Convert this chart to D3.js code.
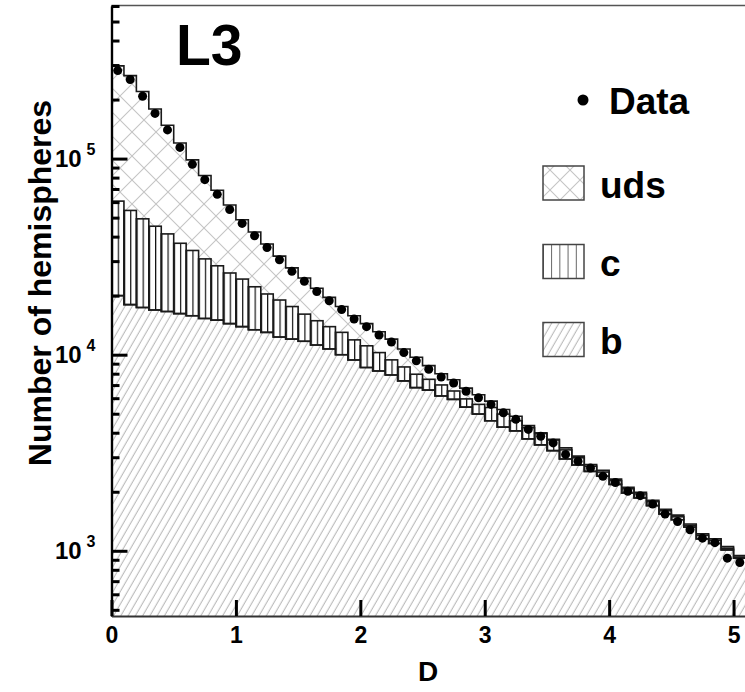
<!DOCTYPE html>
<html>
<head>
<meta charset="utf-8">
<script src="https://cdn.jsdelivr.net/npm/d3@7"></script>
<style>
  body { margin: 0; background: #fff; }
  svg { display: block; font-family: "Liberation Sans", Arial, sans-serif; font-weight: bold; }
</style>
</head>
<body>
<script>
// bins of width 0.1 in D, from 0 to 5.1
const binWidth = 0.1;
const binLow = d3.range(51).map(i => +(i * binWidth).toFixed(1));

// stacked contributions per bin (number of hemispheres)
const bQuark = [20000, 18000, 17400, 16900, 16600, 16200, 15800, 15300, 15000, 14400,
  13900, 13400, 13000, 12300, 12000, 11700, 11200, 10700, 10000, 9400,
  8600, 8260, 7880, 7350, 6790, 6600, 6160, 5920, 5400, 4980,
  4600, 4270, 4090, 3720, 3470, 3240, 2940, 2740, 2540, 2400,
  2180, 1970, 1860, 1700, 1540, 1440, 1320, 1150, 1090, 1010, 917];
const cQuark = [40700, 36400, 31900, 28300, 24700, 20800, 18200, 15500, 13400, 11700,
  10400, 8800, 7400, 6700, 5600, 4400, 3700, 3200, 3000, 2500,
  2500, 1990, 1530, 1310, 1160, 890, 850, 610, 550, 600,
  780, 710, 510, 520, 490, 430, 330, 240, 160, 120,
  100, 100, 90, 80, 60, 50, 30, 50, 40, 20, 13];
const udsQuark = [236300, 210600, 170700, 133800, 106700, 83000, 64500, 51200, 40600, 31900,
  24500, 20000, 16300, 12800, 10100, 8500, 6900, 5700, 4600, 3900,
  3300, 2850, 2590, 2040, 1750, 1310, 990, 920, 800, 670,
  420, 270, 250, 110, 40, 30, 80, 60, 50, 50,
  40, 40, 40, 30, 30, 30, 20, 20, 20, 20, 16];
const dataCounts = [281000, 253000, 208000, 170000, 140000, 114000, 93500, 78100, 65700, 55000,
  46700, 40400, 35200, 30500, 26600, 23700, 21000, 18850, 17000, 15200,
  13900, 12600, 11600, 10250, 9300, 8430, 7700, 7170, 6510, 6030,
  5580, 5060, 4680, 4160, 3840, 3550, 3100, 2860, 2640, 2400,
  2230, 2010, 1910, 1730, 1540, 1410, 1280, 1160, 1100, 917, 871];

const xTicks = [0, 1, 2, 3, 4, 5];
const yMajor = [1e3, 1e4, 1e5];
const legendItems = ["uds", "c", "b"];

const width = 745, height = 692;
const svg = d3.select("body").append("svg")
    .attr("width", width)
    .attr("height", height);

const x = d3.scaleLinear().domain([0, 5.1]).range([111.5, 746]);
const y = d3.scaleLog().domain([465, 6.0e5]).range([616, 6]);

const rows = binLow.map((d, i) => ({lo: d, b: bQuark[i], c: cQuark[i], uds: udsQuark[i]}));
const stack = d3.stack().keys(["b", "c", "uds"])(rows);

// patterns
const defs = svg.append("defs");
const binPx = x(binWidth) - x(0);

const pB = defs.append("pattern").attr("id", "hatchB")
    .attr("patternUnits", "userSpaceOnUse").attr("width", 6.3).attr("height", 20)
    .attr("patternTransform", "rotate(30)");
pB.append("line").attr("x1", 3).attr("x2", 3).attr("y1", -1).attr("y2", 21)
    .attr("stroke", "#b4b4b4").attr("stroke-width", 1);

const pC = defs.append("pattern").attr("id", "hatchC")
    .attr("patternUnits", "userSpaceOnUse").attr("width", binPx / 2).attr("height", 10)
    .attr("x", x(0));
pC.append("line").attr("x1", 0.5).attr("x2", 0.5).attr("y1", 0).attr("y2", 10)
    .attr("stroke", "#111").attr("stroke-width", 1.4);

function crossPattern(id, size) {
  const p = defs.append("pattern").attr("id", id)
      .attr("patternUnits", "userSpaceOnUse").attr("width", size).attr("height", size);
  p.append("path").attr("d", `M0,0L${size},${size}M${size},0L0,${size}`)
      .attr("stroke", "#c4c4c4").attr("stroke-width", 1.1).attr("fill", "none");
}
crossPattern("hatchUds", 24);
crossPattern("hatchUdsLeg", 20);

const pCL = defs.append("pattern").attr("id", "hatchCLeg")
    .attr("patternUnits", "userSpaceOnUse").attr("width", 41 / 5).attr("height", 10)
    .attr("x", 543);
pCL.append("line").attr("x1", 0).attr("x2", 0).attr("y1", 0).attr("y2", 10)
    .attr("stroke", "#111").attr("stroke-width", 1.3);

const clip = defs.append("clipPath").attr("id", "plotClip");
clip.append("rect").attr("x", 111.5).attr("y", 6).attr("width", 640).attr("height", 610);

const plot = svg.append("g").attr("clip-path", "url(#plotClip)");

// step points for a layer boundary
function steps(layer) {
  const pts = [];
  layer.forEach((s, i) => {
    pts.push({x: binLow[i], v0: s[0], v1: s[1]});
    pts.push({x: binLow[i] + binWidth, v0: s[0], v1: s[1]});
  });
  return pts;
}

const bPts = steps(stack[0]);
const udsPts = steps(stack[2]);

// b region
plot.append("path")
    .datum(bPts)
    .attr("fill", "url(#hatchB)")
    .attr("d", d3.area().x(d => x(d.x)).y0(616).y1(d => y(d.v1)));

// uds region
plot.append("path")
    .datum(udsPts)
    .attr("fill", "url(#hatchUds)")
    .attr("d", d3.area().x(d => x(d.x)).y0(d => y(d.v0)).y1(d => y(d.v1)));

// c bars
plot.selectAll("rect.c")
    .data(stack[1])
    .join("rect")
    .attr("class", "c")
    .attr("x", (d, i) => x(binLow[i]))
    .attr("width", binPx)
    .attr("y", d => y(d[1]))
    .attr("height", d => y(d[0]) - y(d[1]))
    .attr("fill", "url(#hatchC)")
    .attr("stroke", "#1a1a1a")
    .attr("stroke-width", 1.6);

// outlines of b and total
const stepLine = d3.line().x(d => x(d.x)).y(d => y(d.v1));
plot.append("path").datum(bPts).attr("fill", "none")
    .attr("stroke", "#1a1a1a").attr("stroke-width", 1.6).attr("d", stepLine);
plot.append("path").datum(udsPts).attr("fill", "none")
    .attr("stroke", "#1a1a1a").attr("stroke-width", 1.6).attr("d", stepLine);

// data points
plot.selectAll("circle.data")
    .data(dataCounts)
    .join("circle")
    .attr("class", "data")
    .attr("cx", (d, i) => x(binLow[i] + binWidth / 2))
    .attr("cy", d => y(d))
    .attr("r", 4.5)
    .attr("fill", "#000");

// frame
svg.append("line").attr("x1", 111.5).attr("x2", 746).attr("y1", 5.5).attr("y2", 5.5)
    .attr("stroke", "#555").attr("stroke-width", 1.5);

// y axis ticks (inside)
const minor = [];
[100, 1000, 10000, 100000].forEach(dec => {
  for (let k = 2; k <= 9; k++) {
    const v = dec * k;
    if (v >= 465 && v <= 6.0e5) minor.push(v);
  }
});
const yAxisMinor = svg.append("g").attr("transform", "translate(111.5,0)")
    .call(d3.axisRight(y).tickValues(minor).tickSize(8).tickSizeOuter(0).tickFormat(""));
const yAxisMajor = svg.append("g").attr("transform", "translate(111.5,0)")
    .call(d3.axisRight(y).tickValues(yMajor).tickSize(16).tickSizeOuter(0).tickFormat(""));
[yAxisMinor, yAxisMajor].forEach(g => {
  g.selectAll(".tick line").attr("stroke", "#000").attr("stroke-width", 3);
  g.select(".domain").attr("stroke", "#000").attr("stroke-width", 2.2);
});

// y labels 10^n
const yLab = svg.append("g").attr("transform", "translate(111.5,0)")
    .call(d3.axisLeft(y).tickValues(yMajor).tickSize(0).tickPadding(16).tickFormat(""));
yLab.select(".domain").remove();
yLab.selectAll(".tick text").each(function (d) {
  const t = d3.select(this)
      .attr("fill", "#000")
      .style("font-size", "24px")
      .style("font-family", "Liberation Sans, Arial, sans-serif")
      .style("font-weight", "bold");
  t.append("tspan").text("10");
  t.append("tspan").attr("dx", 5).attr("dy", -12).style("font-size", "16px").text(Math.round(Math.log10(d)));
});

// x axis
const xAxis = svg.append("g").attr("transform", "translate(0,616)")
    .call(d3.axisTop(x).tickValues(xTicks).tickSize(16).tickSizeOuter(0).tickFormat(""));
xAxis.selectAll(".tick line").attr("stroke", "#000").attr("stroke-width", 3);
xAxis.select(".domain").attr("stroke", "#333").attr("stroke-width", 2.2);

const xLab = svg.append("g").attr("transform", "translate(0,616)")
    .call(d3.axisBottom(x).tickValues(xTicks).tickSize(0).tickPadding(11).tickFormat(d3.format("d")));
xLab.select(".domain").remove();
xLab.selectAll(".tick text")
    .attr("fill", "#000")
    .style("font-size", "23px")
    .style("font-family", "Liberation Sans, Arial, sans-serif")
    .style("font-weight", "bold");

// axis titles
svg.append("text")
    .attr("x", 428).attr("y", 681)
    .attr("text-anchor", "middle")
    .style("font-size", "28px")
    .text("D");

svg.append("text")
    .attr("transform", "translate(51,283) rotate(-90)")
    .attr("text-anchor", "middle")
    .style("font-size", "32px")
    .text("Number of hemispheres");

// panel label
svg.append("text")
    .attr("x", 176).attr("y", 65)
    .style("font-size", "57px")
    .text("L3");

// legend
svg.append("circle").attr("cx", 583).attr("cy", 100).attr("r", 5.5).attr("fill", "#000");
svg.append("text").attr("x", 609).attr("y", 114).style("font-size", "37px").text("Data");

const legFill = {uds: "url(#hatchUdsLeg)", c: "url(#hatchCLeg)", b: "url(#hatchB)"};
const legTop = [166, 244.5, 322.5];
const leg = svg.append("g").selectAll("g")
    .data(legendItems)
    .join("g");
leg.append("rect")
    .attr("x", 543).attr("y", (d, i) => legTop[i])
    .attr("width", 41).attr("height", 34)
    .attr("fill", d => legFill[d])
    .attr("stroke", "#444").attr("stroke-width", 1.5);
leg.append("text")
    .attr("x", 600).attr("y", (d, i) => legTop[i] + 31.5)
    .style("font-size", "37px")
    .text(d => d);
</script>
</body>
</html>
